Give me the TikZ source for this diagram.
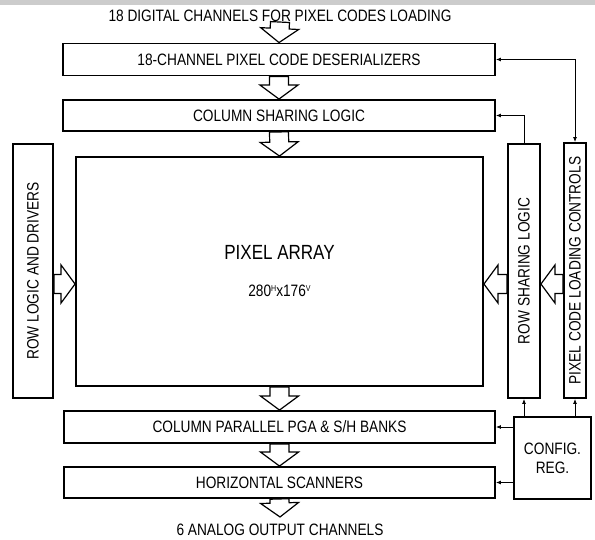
\documentclass[tikz,border=0pt]{standalone}
\usepackage{fontspec}
\setmainfont{Liberation Sans}[FakeStretch=0.83]
\usepackage{tikz}
\usetikzlibrary{arrows.meta, calc}

\newcommand{\lbl}{\fontsize{16.5}{19}\selectfont}
\newcommand{\supsm}[1]{\raisebox{5pt}{\fontsize{8.5}{9}\selectfont #1}}
\newcommand{\fatarrow}[2]{%
  \coordinate (fatbase) at ($#2!14pt!#1$);
  \draw[fat] ($#1!9.5pt!90:#2$) -- ($(fatbase)!9.5pt!90:#2$) -- ($(fatbase)!19pt!90:#2$) -- #2
    -- ($(fatbase)!19pt!-90:#2$) -- ($(fatbase)!9.5pt!-90:#2$) -- ($#1!9.5pt!-90:#2$) -- cycle;}

\begin{document}
\begin{tikzpicture}[
  x=1pt, y=-1pt,
  box/.style={draw, line width=1.9pt, inner sep=0pt, align=center, font=\lbl},
  txt/.style={inner sep=0pt, font=\lbl},
  fat/.style={line width=1.2pt, line join=miter},
  link/.style={line width=0.8pt, -{Latex[length=5pt, width=4pt]}}
]
\useasboundingbox (0,0) rectangle (595,539);
\fill[black!20] (0,0) rectangle (595,5);

\node[txt] (title) at (280,16) {18 DIGITAL CHANNELS FOR PIXEL CODES LOADING};
\node[box, minimum width=432pt, minimum height=32pt] (desr) at (279,59.5) {18-CHANNEL PIXEL CODE DESERIALIZERS};
\node[box, minimum width=432pt, minimum height=31pt] (colsh) at (279,115.5) {COLUMN SHARING LOGIC};
\node[box, minimum width=407pt, minimum height=229pt] (pix) at (279.5,271.5)
  {{\fontsize{20.5}{24}\selectfont PIXEL ARRAY}\\[18pt]280\supsm{H}x176\supsm{V}};
\node[box, minimum width=40pt, minimum height=254pt] (rowlog) at (33,271) {\rotatebox{90}{ROW LOGIC AND DRIVERS}};
\node[box, minimum width=32pt, minimum height=254pt] (rowsh) at (524,271) {\rotatebox{90}{ROW SHARING LOGIC}};
\node[box, minimum width=22pt, minimum height=255pt] (pcl) at (575,270.5) {\rotatebox{90}{PIXEL CODE LOADING CONTROLS}};
\node[box, minimum width=431pt, minimum height=32pt] (colpar) at (279.5,427) {COLUMN PARALLEL PGA \& S/H BANKS};
\node[box, minimum width=431pt, minimum height=31pt] (hscan) at (279.5,482.5) {HORIZONTAL SCANNERS};
\node[box, minimum width=77pt, minimum height=82pt] (config) at (552.5,458) {CONFIG.\\REG.};
\node[txt] (out) at (280,530) {6 ANALOG OUTPUT CHANNELS};
\coordinate (armrow) at (0,284);

\fatarrow{(title.south)}{(desr.north)}
\fatarrow{(desr.south)}{(colsh.north)}
\fatarrow{(colsh.south)}{(pix.north)}
\fatarrow{(pix.south)}{(colpar.north)}
\fatarrow{(colpar.south)}{(hscan.north)}
\fatarrow{(hscan.south)}{([yshift=7pt]out.north)}
\fatarrow{(rowlog.east |- armrow)}{(pix.west |- armrow)}
\fatarrow{(rowsh.west |- armrow)}{(pix.east |- armrow)}
\fatarrow{(pcl.west |- armrow)}{(rowsh.east |- armrow)}

\draw[link, {Latex[length=5pt, width=4pt]}-{Latex[length=5pt, width=4pt]}] (desr.east) -| (pcl.north);
\draw[link] (rowsh.north) |- (colsh.east);
\draw[link] (config.north -| rowsh.south) -- (rowsh.south);
\draw[link] (config.north -| pcl.south) -- (pcl.south);
\draw[link] (config.west |- colpar.east) -- (colpar.east);
\draw[link] (config.west |- hscan.east) -- (hscan.east);
\end{tikzpicture}
\end{document}
